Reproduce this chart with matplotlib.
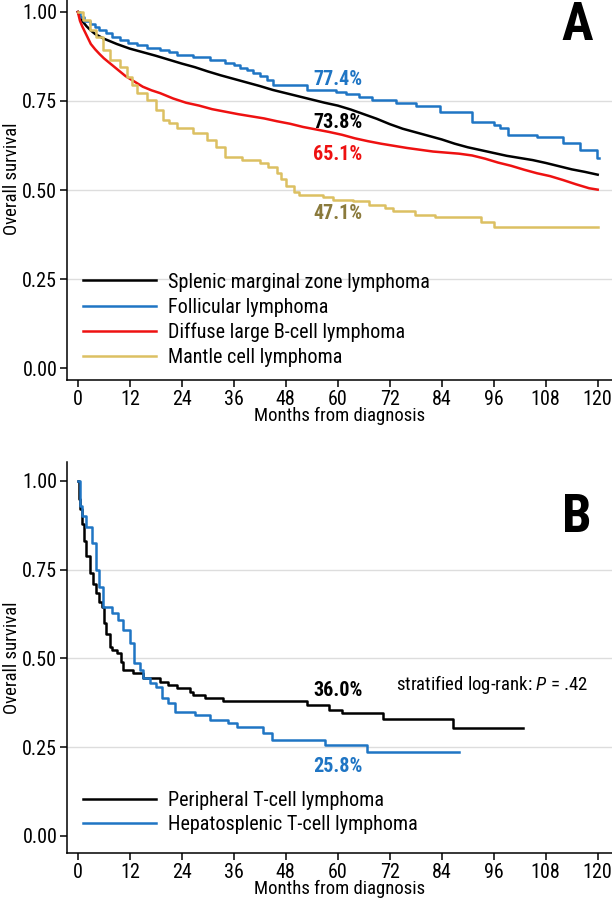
import matplotlib
matplotlib.use("Agg")
import matplotlib.pyplot as plt
from matplotlib import font_manager

# pick a condensed sans if we have it
names = {f.name for f in font_manager.fontManager.ttflist}
fam = "Liberation Sans"
for cand in ["Liberation Sans Narrow", "Roboto Condensed", "Open Sans Condensed"]:
    if cand in names:
        fam = cand
        break
plt.rcParams["font.family"] = [fam, "DejaVu Sans"]
plt.rcParams["mathtext.fontset"] = "custom"
plt.rcParams["mathtext.rm"] = fam
plt.rcParams["mathtext.it"] = fam + ":italic"

# ---- panel A data (months, survival) ----
smzl_t = [0, 1, 2, 3, 4, 6, 9, 12, 15, 18, 21, 24, 27, 30, 33, 36, 39, 42, 45, 48,
          51, 54, 57, 60, 63, 66, 69, 72, 75, 78, 81, 84, 87, 90, 93, 96, 99, 102,
          105, 108, 111, 114, 117, 120]
smzl_s = [1.000, 0.975, 0.960, 0.948, 0.938, 0.925, 0.910, 0.897, 0.887, 0.877,
          0.866, 0.855, 0.845, 0.833, 0.822, 0.812, 0.802, 0.792, 0.781, 0.772,
          0.763, 0.754, 0.745, 0.737, 0.726, 0.713, 0.700, 0.685, 0.672, 0.662,
          0.652, 0.642, 0.630, 0.620, 0.612, 0.604, 0.596, 0.590, 0.584, 0.576,
          0.567, 0.558, 0.551, 0.543]

fl_t = [0, 0.5, 1.5, 2.8, 4, 5, 6.5, 8, 9.7, 11.5, 13.6, 16, 19, 21, 22.8, 26.6,
        30.5, 34, 36, 37.4, 39, 40.4, 42, 43.6, 45, 53, 59.6, 62, 65, 68, 73.5,
        78, 83.5, 91, 96, 97.5, 99.3, 106, 112, 116, 119.8, 120.3]
fl_s = [1.000, 0.985, 0.975, 0.965, 0.957, 0.950, 0.940, 0.930, 0.920, 0.914,
        0.908, 0.900, 0.894, 0.887, 0.880, 0.874, 0.866, 0.857, 0.850, 0.843,
        0.836, 0.829, 0.820, 0.810, 0.795, 0.780, 0.776, 0.770, 0.762, 0.753,
        0.745, 0.735, 0.720, 0.692, 0.683, 0.675, 0.655, 0.650, 0.633, 0.613,
        0.590, 0.590]

dlbcl_t = [0, 0.5, 1, 2, 3, 4, 5, 6, 7, 9, 11, 13, 15, 17, 19, 22, 25, 28, 31, 34,
           37, 40, 43, 46, 49, 52, 55, 58, 61, 64, 67, 70, 73, 76, 79, 82, 85, 88,
           91, 94, 97, 100, 103, 106, 109, 112, 115, 118, 120]
dlbcl_s = [1.000, 0.975, 0.960, 0.935, 0.910, 0.895, 0.882, 0.870, 0.860, 0.840,
           0.820, 0.805, 0.790, 0.780, 0.772, 0.757, 0.745, 0.737, 0.727, 0.720,
           0.713, 0.707, 0.701, 0.693, 0.686, 0.677, 0.670, 0.663, 0.655, 0.645,
           0.637, 0.630, 0.624, 0.618, 0.613, 0.608, 0.605, 0.602, 0.597, 0.588,
           0.577, 0.568, 0.557, 0.547, 0.539, 0.528, 0.516, 0.505, 0.501]

mcl_t = [0, 1.2, 2.8, 4.3, 5.8, 7.4, 9.7, 11.3, 12.5, 13.6, 16, 18, 19.6, 21, 23,
         26.6, 29.8, 32, 34, 38, 42, 44, 46, 47, 48, 50, 51, 56.5, 59, 63.5,
         67.3, 71, 72.7, 77.8, 82.4, 93, 96, 120]
mcl_s = [1.000, 0.978, 0.950, 0.930, 0.893, 0.866, 0.846, 0.818, 0.795, 0.773,
         0.754, 0.725, 0.697, 0.688, 0.675, 0.661, 0.641, 0.622, 0.594, 0.585,
         0.577, 0.565, 0.549, 0.530, 0.510, 0.493, 0.487, 0.480, 0.473, 0.468,
         0.459, 0.450, 0.440, 0.431, 0.423, 0.409, 0.395, 0.395]

# ---- panel B data ----
ptcl_t = [0, 0.3, 0.6, 1, 1.5, 2, 2.8, 3.5, 4.3, 5, 5.5, 6, 6.5, 7.4, 8, 9, 10,
          10.4, 12.7, 15, 19, 20.8, 22.8, 25.8, 26.6, 29.3, 33.5, 53, 58, 61,
          70.4, 86.6, 102.8]
ptcl_s = [1.000, 0.950, 0.920, 0.880, 0.830, 0.790, 0.740, 0.710, 0.684, 0.660,
          0.645, 0.600, 0.570, 0.532, 0.524, 0.515, 0.490, 0.468, 0.459, 0.445,
          0.434, 0.425, 0.417, 0.406, 0.397, 0.389, 0.380, 0.369, 0.355, 0.346,
          0.330, 0.304, 0.304]

hstcl_t = [0, 0.5, 1, 2, 3.2, 4.3, 5, 5.8, 8, 9.2, 10.4, 12, 13, 14.3, 15, 16.6,
           18, 19.4, 20.8, 22.4, 27, 30.5, 34.6, 36.7, 42.7, 44.8, 57, 66.7, 88]
hstcl_s = [1.000, 0.930, 0.900, 0.870, 0.825, 0.749, 0.700, 0.645, 0.628, 0.608,
           0.580, 0.543, 0.487, 0.468, 0.445, 0.431, 0.420, 0.389, 0.375, 0.349,
           0.341, 0.327, 0.318, 0.307, 0.290, 0.270, 0.256, 0.237, 0.237]

labels_a = ["Splenic marginal zone lymphoma", "Follicular lymphoma",
            "Diffuse large B-cell lymphoma", "Mantle cell lymphoma"]
labels_b = ["Peripheral T-cell lymphoma", "Hepatosplenic T-cell lymphoma"]
pct_a = ["73.8%", "77.4%", "65.1%", "47.1%"]
pct_b = ["36.0%", "25.8%"]

xticks = list(range(0, 121, 12))
yticks = [0, 0.25, 0.5, 0.75, 1.0]
gridvals = [0.25, 0.5, 0.75]

c_black = "#000000"
c_blue = "#1f75c4"
c_red = "#ee1111"
c_yellow = "#dcc062"
c_olive = "#8a7a3c"

fs_tick = 14.5
fs_lab = 13.5
fs_leg = 14.5

fig = plt.figure(figsize=(6.12, 9), dpi=100)
axA = fig.add_axes([67/612, 1-380/900, 545/612, 380/900])
axB = fig.add_axes([67/612, 1-853/900, 545/612, 391/900])


def style(ax, ylim, ylab_y):
    for v in gridvals:
        ax.axhline(v, color="#dddddd", lw=1.0, zorder=0)
    ax.set_xlim(-2.5, 123.3)
    ax.set_ylim(*ylim)
    ax.set_xticks(xticks)
    ax.set_yticks(yticks)
    ax.set_yticklabels([f"{v:.2f}" for v in yticks])
    ax.spines["top"].set_visible(False)
    ax.spines["right"].set_visible(False)
    ax.spines["left"].set_linewidth(1.1)
    ax.spines["bottom"].set_linewidth(1.1)
    ax.tick_params(length=5, width=1.1, labelsize=fs_tick, pad=2)
    ax.set_ylabel("Overall survival", fontsize=fs_lab)
    ax.yaxis.set_label_coords(-0.084, ylab_y)
    ax.set_xlabel("Months from diagnosis", fontsize=fs_lab, labelpad=-1)


# panel A: black and red have many events, so draw them as smooth lines
lw = 1.8
axA.plot(smzl_t, smzl_s, color=c_black, lw=lw, label=labels_a[0])
axA.step(fl_t, fl_s, where="post", color=c_blue, lw=lw, label=labels_a[1])
axA.plot(dlbcl_t, dlbcl_s, color=c_red, lw=lw, label=labels_a[2])
axA.step(mcl_t, mcl_s, where="post", color=c_yellow, lw=lw, label=labels_a[3])
style(axA, (-0.0336, 1.0336), 0.53)
kw = dict(fontsize=14.5, fontweight="bold", ha="center", va="center")
axA.text(60, 0.689, pct_a[0], color=c_black, **kw)
axA.text(60, 0.811, pct_a[1], color=c_blue, **kw)
axA.text(60, 0.601, pct_a[2], color=c_red, **kw)
axA.text(60, 0.433, pct_a[3], color=c_olive, **kw)
axA.text(0.936, 0.932, "A", transform=axA.transAxes, fontsize=38,
         fontweight="bold", ha="center", va="center")
axA.legend(loc="upper left", bbox_to_anchor=(0.015, 0.304), frameon=False,
           fontsize=fs_leg, handlelength=3.6, handletextpad=0.6,
           labelspacing=0.3, borderaxespad=0)

# panel B
axB.step(ptcl_t, ptcl_s, where="post", color=c_black, lw=lw, label=labels_b[0])
axB.step(hstcl_t, hstcl_s, where="post", color=c_blue, lw=lw, label=labels_b[1])
style(axB, (-0.0479, 1.0535), 0.5)
axB.text(60, 0.410, pct_b[0], color=c_black, **kw)
axB.text(60, 0.197, pct_b[1], color=c_blue, **kw)
axB.text(73.5, 0.428, "stratified log-rank: $\\it{P}$ = .42", fontsize=13.5,
         ha="left", va="center")
axB.text(0.936, 0.857, "B", transform=axB.transAxes, fontsize=38,
         fontweight="bold", ha="center", va="center")
axB.legend(loc="upper left", bbox_to_anchor=(0.015, 0.18), frameon=False,
           fontsize=fs_leg, handlelength=3.6, handletextpad=0.6,
           labelspacing=0.27, borderaxespad=0)

fig.savefig("out.png", dpi=100)
